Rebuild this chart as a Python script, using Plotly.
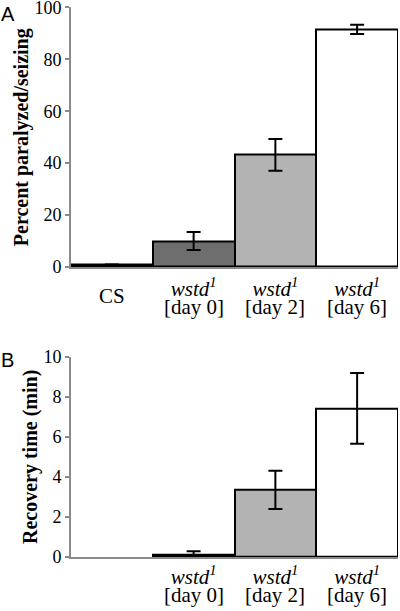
import plotly.graph_objects as go

# ---- data ----
categories = ["CS", "wstd1 day 0", "wstd1 day 2", "wstd1 day 6"]
tick_top = ["", "<i>wstd<sup>1</sup></i>", "<i>wstd<sup>1</sup></i>", "<i>wstd<sup>1</sup></i>"]
tick_bottom = ["", "[day 0]", "[day 2]", "[day 6]"]
percent_vals = [1.0, 10.0, 43.2, 91.6]
percent_err = [0.0, 3.5, 6.1, 1.8]
recovery_vals = [None, 0.12, 3.35, 7.42]
recovery_err = [0.0, 0.17, 0.95, 1.77]
bar_colors = ["#000000", "#6e6e6e", "#b3b3b3", "#ffffff"]

xpos = list(range(len(categories)))
SERIF = "Liberation Serif"
SANS = "Liberation Sans"
AXIS_GRAY = "#8a8a8a"

fig = go.Figure()

fig.add_trace(go.Bar(
    x=xpos, y=percent_vals, width=1.0,
    marker=dict(color=bar_colors, line=dict(color="black", width=2)),
    error_y=dict(type="data", array=percent_err, color="black", thickness=2, width=7),
    xaxis="x", yaxis="y", cliponaxis=False, showlegend=False,
))
fig.add_trace(go.Bar(
    x=xpos, y=recovery_vals, width=1.0,
    marker=dict(color=bar_colors, line=dict(color="black", width=2)),
    error_y=dict(type="data", array=recovery_err, color="black", thickness=2, width=7),
    xaxis="x2", yaxis="y2", cliponaxis=False, showlegend=False,
))

xcommon = dict(
    range=[-0.5, 3.5], tickmode="array", tickvals=xpos, ticktext=tick_top,
    showline=True, linecolor=AXIS_GRAY, linewidth=2, ticks="",
    tickfont=dict(family=SERIF, size=21, color="black"),
    showgrid=False, zeroline=False, automargin=False,
    ticklabeloverflow="allow",
)
ycommon = dict(
    showline=True, linecolor=AXIS_GRAY, linewidth=2, ticks="outside",
    ticklen=4, tickwidth=1.5, tickcolor=AXIS_GRAY,
    tickfont=dict(family=SERIF, size=18, color="black"),
    showgrid=False, zeroline=False, automargin=False, ticklabeloverflow="allow",
)

annotations = []
# second line of category labels
for i, t in enumerate(tick_bottom):
    if t:
        annotations.append(dict(text=t, x=xpos[i], y=0, xref="x", yref="y",
                                yanchor="middle", yshift=-40, showarrow=False,
                                font=dict(family=SERIF, size=21, color="black")))
        annotations.append(dict(text=t, x=xpos[i], y=0, xref="x2", yref="y2",
                                yanchor="middle", yshift=-38, showarrow=False,
                                font=dict(family=SERIF, size=21, color="black")))
annotations.append(dict(text=categories[0], x=xpos[0], y=0, xref="x", yref="y",
                        yanchor="middle", yshift=-29, showarrow=False,
                        font=dict(family=SERIF, size=21, color="black")))
# panel letters
annotations.append(dict(text="A", x=0, y=1.0, xref="paper", yref="paper",
                        xanchor="left", yanchor="top", xshift=-72, yshift=6, showarrow=False,
                        font=dict(family=SANS, size=20, color="black")))
annotations.append(dict(text="B", x=0, y=0.364, xref="paper", yref="paper",
                        xanchor="left", yanchor="top", xshift=-72, yshift=10, showarrow=False,
                        font=dict(family=SANS, size=20, color="black")))

fig.update_layout(
    template="none",
    width=400, height=611,
    margin=dict(l=71, r=2, t=7, b=54, autoexpand=False),
    paper_bgcolor="white", plot_bgcolor="white",
    font=dict(family=SERIF, color="black"),
    bargap=0,
    xaxis=dict(**xcommon, anchor="y", domain=[0, 1], ticklabelstandoff=2),
    yaxis=dict(**ycommon, domain=[0.5273, 0.9991], range=[0, 100], tickvals=[0, 20, 40, 60, 80, 100],
               title=dict(text="<b>Percent paralyzed/seizing</b>", standoff=0,
                          font=dict(family=SERIF, size=20, color="black"))),
    xaxis2=dict(**xcommon, anchor="y2", domain=[0, 1], ticklabelstandoff=0),
    yaxis2=dict(**ycommon, domain=[0, 0.3642], range=[0, 10], tickvals=[0, 2, 4, 6, 8, 10],
                title=dict(text="<b>Recovery time (min)</b>", standoff=0,
                           font=dict(family=SERIF, size=20, color="black"))),
    annotations=annotations,
)

fig.write_html("out.html", config={"displayModeBar": False},
               post_script="document.body.style.margin='0';document.body.style.padding='0';")
